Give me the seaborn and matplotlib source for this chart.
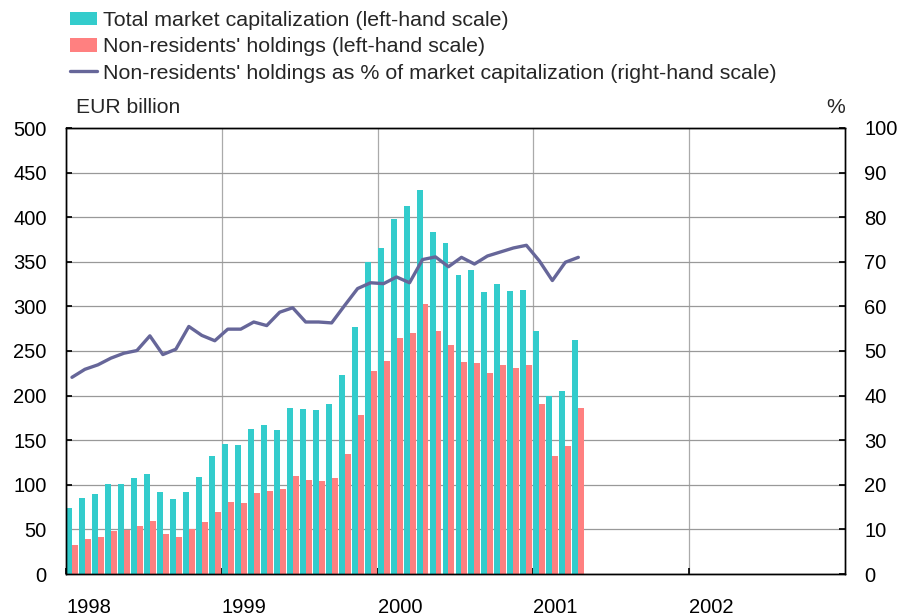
import numpy as np
import pandas as pd
import matplotlib
matplotlib.use("Agg")
import matplotlib.pyplot as plt
import seaborn as sns
from matplotlib.patches import Patch
from matplotlib.lines import Line2D

# ---- data (monthly, Jan 1998 - Apr 2001) ----
years = ["1998", "1999", "2000", "2001", "2002"]
total_cap = [74, 85, 89.5, 101, 100.5, 107.5, 112, 92, 84, 92, 109, 132,
             146, 145, 162, 166.5, 161, 186, 185, 184, 191, 223, 277, 350,
             366, 398, 413, 430, 383, 371, 335, 341, 316, 325, 317, 318,
             272, 200, 205, 262]
nonres = [32, 39, 42, 48, 49, 54, 59, 45, 42, 50, 58, 69,
          81, 80, 91, 93, 95, 110, 105, 104, 108, 135, 178, 228,
          239, 265, 270, 303, 272, 257, 238, 237, 225, 234, 231, 234,
          191, 132, 143, 186]
pct = [44.1, 45.9, 46.9, 48.4, 49.5, 50.1, 53.4, 49.2, 50.4, 55.5, 53.5, 52.3,
       54.9, 54.9, 56.5, 55.7, 58.7, 59.7, 56.5, 56.5, 56.3, 60.2, 64.0, 65.3,
       65.1, 66.6, 65.3, 70.5, 71.1, 68.9, 71.0, 69.5, 71.3, 72.2, 73.1, 73.7,
       70.2, 65.8, 69.9, 71.0]

lab_total = "Total market capitalization (left-hand scale)"
lab_nonres = "Non-residents' holdings (left-hand scale)"
lab_pct = "Non-residents' holdings as % of market capitalization (right-hand scale)"

TEAL = "#33CCCC"
PINK = "#FF8080"
NAVY = "#666699"
GRID = "#999999"

sns.set_theme(style="white")
plt.rcParams["font.family"] = ["Liberation Sans", "DejaVu Sans"]
FS = 14.5
FS_LEG = 15.4

n = len(total_cap)
month_pos = np.arange(n) + 0.46  # centre of each monthly bar pair

df = pd.DataFrame({
    "t": np.concatenate([month_pos, month_pos]),
    "value": total_cap + nonres,
    "series": [lab_total] * n + [lab_nonres] * n,
})

fig = plt.figure(figsize=(9.01, 6.16), dpi=100)
ax = fig.add_axes([66 / 901, 1 - 574 / 616, (845 - 66) / 901, (574 - 128) / 616])

sns.barplot(data=df, x="t", y="value", hue="series", hue_order=[lab_total, lab_nonres],
            palette=[TEAL, PINK], native_scale=True, width=0.92, gap=0, dodge=True,
            errorbar=None, legend=False, ax=ax, saturation=1, linewidth=0)

ax.set_xlim(0, 60)
ax.set_ylim(0, 500)
ax.set_yticks(np.arange(0, 501, 50))
ax.set_xticks([0, 12, 24, 36, 48])
ax.set_xticklabels(years, ha="left")
ax.set_xlabel("")
ax.set_ylabel("")
ax.set_axisbelow(True)
ax.yaxis.grid(True, color=GRID, linewidth=0.9)
ax.xaxis.grid(True, color="#aaaaaa", linewidth=0.9)
for s in ax.spines.values():
    s.set_color("black")
    s.set_linewidth(1.0)
ax.tick_params(axis="y", direction="in", length=4, pad=14, labelsize=FS, colors="black", left=True)
ax.tick_params(axis="x", direction="in", length=4, pad=17, labelsize=FS, colors="black", bottom=True)

ax2 = ax.twinx()
sns.lineplot(x=month_pos, y=pct, ax=ax2, color=NAVY, linewidth=2.4)
ax2.set_ylim(0, 100)
ax2.set_yticks(np.arange(0, 101, 10))
ax2.tick_params(axis="y", direction="in", length=4, pad=14, labelsize=FS, colors="black", right=True)
ax2.set_ylabel("")
for s in ax2.spines.values():
    s.set_color("black")
    s.set_linewidth(1.0)

fig.text(76 / 901, 1 - 113 / 616, "EUR billion", fontsize=15.2, ha="left", va="baseline")
fig.text(845 / 901, 1 - 113 / 616, "%", fontsize=15.2, ha="right", va="baseline")

handles = [Patch(facecolor=TEAL, edgecolor="none"),
           Patch(facecolor=PINK, edgecolor="none"),
           Line2D([0], [0], color=NAVY, linewidth=2.4)]
fig.legend(handles, [lab_total, lab_nonres, lab_pct], loc="upper left",
           bbox_to_anchor=(70 / 901, 1 - 11 / 616), frameon=False, fontsize=FS_LEG,
           handlelength=1.26, handleheight=0.61, handletextpad=0.28,
           labelspacing=0.34, borderpad=0, borderaxespad=0)

fig.savefig("out.png", dpi=100)
